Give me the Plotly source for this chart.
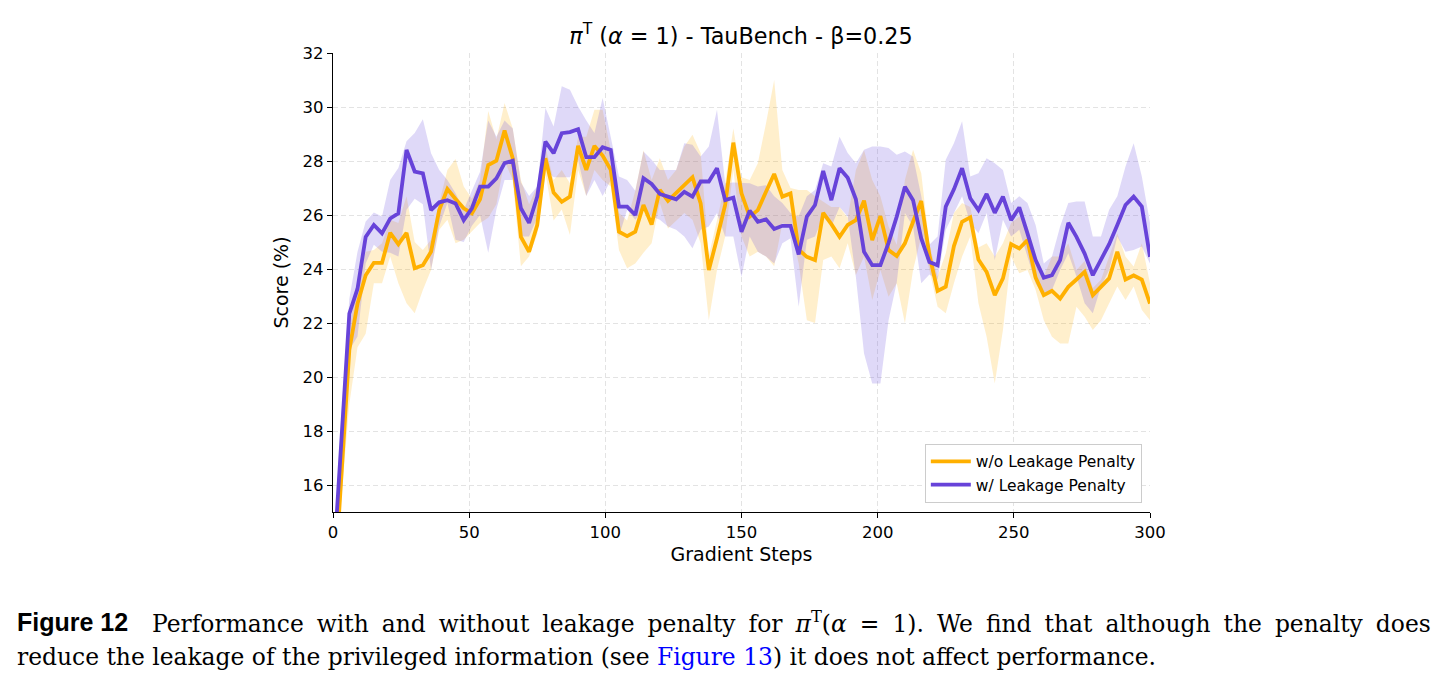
import plotly.graph_objects as go

# ---------------- data ----------------
steps = list(range(0, 301, 3))

wo_mean = [11.4, 16.1, 21.0, 22.72, 23.77, 24.23, 24.23, 25.34, 24.92, 25.34,
           24.03, 24.14, 24.64, 26.18, 26.96, 26.59, 26.25, 26.06, 26.58, 27.85,
           28.01, 29.13, 28.1, 25.19, 24.64, 25.63, 28.1, 26.83, 26.49, 26.68,
           28.56, 27.67, 28.56, 28.2, 27.67, 25.38, 25.22, 25.38, 26.37, 25.65,
           26.93, 26.52, 26.8, 27.11, 27.4, 26.43, 23.96, 25.13, 26.37, 28.68,
           26.8, 25.94, 26.18, 26.86, 27.52, 26.68, 26.8, 24.72, 24.45, 24.33,
           26.08, 25.66, 25.19, 25.63, 25.81, 26.53, 25.07, 25.96, 24.7, 24.48,
           24.95, 25.75, 26.52, 24.51, 23.19, 23.34, 24.85, 25.75, 25.91, 24.35,
           23.89, 23.03, 23.65, 24.92, 24.76, 25.07, 23.68, 23.03, 23.19, 22.9,
           23.34, 23.61, 23.89, 23.03, 23.34, 23.65, 24.64, 23.61, 23.76, 23.61,
           22.72]
wo_upper = [12.0, 16.8, 21.8, 23.47, 24.64, 24.7, 24.95, 25.82, 25.7, 26.69,
            25.0, 24.7, 25.08, 26.44, 27.67, 28.07, 27.06, 26.6, 27.3, 29.85,
            28.8, 30.15, 29.2, 27.3, 26.4, 27.06, 28.54, 27.3, 27.67, 27.18,
            28.9, 28.9, 29.9, 29.9, 28.4, 26.07, 25.8, 26.9, 28.4, 27.3,
            28.1, 27.3, 27.67, 28.54, 28.97, 28.3, 24.5, 25.8, 27.2, 29.2,
            27.4, 27.3, 27.92, 29.4, 31.0, 27.67, 27.0, 26.93, 26.93, 26.69,
            26.5, 26.3, 26.3, 25.9, 27.67, 28.4, 27.3, 26.69, 25.57, 24.9,
            27.3, 28.42, 27.55, 24.9, 23.72, 24.58, 26.07, 26.44, 26.3, 24.8,
            24.95, 24.46, 24.95, 25.7, 25.94, 25.57, 24.46, 23.72, 24.46, 24.46,
            24.95, 23.96, 24.3, 23.3, 23.6, 24.46, 25.32, 24.46, 24.09, 24.95,
            23.47]
wo_lower = [10.8, 15.4, 19.0, 21.1, 21.6, 23.47, 23.47, 24.46, 23.47, 22.73,
            22.36, 23.22, 23.96, 25.45, 25.82, 24.95, 25.08, 25.4, 25.7, 25.9,
            26.4, 28.0, 27.3, 24.1, 24.46, 25.3, 27.55, 25.8, 26.2, 25.26,
            27.67, 26.7, 27.67, 27.3, 27.06, 24.7, 24.03, 24.2, 24.6, 24.95,
            26.44, 25.5, 25.8, 26.07, 25.82, 24.95, 22.1, 23.96, 25.2, 27.67,
            25.2, 24.46, 24.64, 24.46, 24.1, 25.7, 25.57, 24.2, 22.1, 22.0,
            24.33, 24.46, 24.03, 24.95, 23.78, 24.46, 22.85, 23.96, 22.97, 23.47,
            21.99, 23.96, 25.2, 23.96, 22.6, 22.36, 23.47, 24.46, 25.2, 22.73,
            21.49, 19.76, 21.74, 24.46, 23.84, 23.96, 23.22, 22.1, 21.49, 21.24,
            21.24, 22.6, 22.23, 21.74, 22.1, 22.73, 23.35, 22.85, 23.35, 22.48,
            22.1]

w_mean = [12.7, 17.8, 22.35, 23.27, 25.19, 25.63, 25.32, 25.87, 26.06, 28.41,
          27.61, 27.54, 26.18, 26.47, 26.55, 26.43, 25.81, 26.25, 27.05, 27.05,
          27.36, 27.92, 28.01, 26.25, 25.71, 26.68, 28.72, 28.29, 29.03, 29.07,
          29.18, 28.14, 28.14, 28.51, 28.41, 26.31, 26.31, 26.0, 27.36, 27.15,
          26.78, 26.68, 26.58, 26.86, 26.68, 27.24, 27.24, 27.73, 26.55, 26.64,
          25.38, 26.16, 25.75, 25.84, 25.48, 25.6, 25.6, 24.54, 25.94, 26.37,
          27.63, 26.55, 27.73, 27.38, 26.58, 24.64, 24.14, 24.14, 24.97, 25.94,
          27.05, 26.55, 25.13, 24.26, 24.14, 26.31, 26.95, 27.73, 26.62, 26.18,
          26.78, 26.08, 26.68, 25.81, 26.28, 25.32, 24.33, 23.68, 23.77, 24.33,
          25.71, 25.19, 24.57, 23.77, 24.35, 24.92, 25.63, 26.37, 26.68, 26.31,
          24.45]
w_upper = [13.2, 18.5, 22.9, 24.64, 25.76, 26.09, 25.94, 27.3, 27.74, 28.73,
           29.04, 29.55, 28.29, 27.67, 27.3, 26.81, 26.19, 26.93, 27.6, 29.5,
           28.9, 29.5, 29.2, 27.2, 26.7, 27.06, 29.96, 29.28, 30.77, 30.64,
           30.02, 29.5, 29.04, 30.33, 28.9, 27.43, 27.3, 26.9, 28.35, 28.05,
           27.67, 27.67, 27.67, 28.66, 28.6, 28.17, 28.54, 29.9, 27.18, 27.2,
           27.18, 27.18, 27.06, 27.1, 26.69, 26.44, 26.07, 25.94, 26.69, 26.93,
           27.92, 27.8, 28.9, 28.3, 27.92, 28.42, 28.54, 28.54, 28.48, 28.23,
           28.35, 28.17, 26.7, 24.9, 25.2, 28.05, 28.66, 29.47, 27.43, 27.55,
           28.1, 27.92, 27.67, 26.44, 26.69, 26.44, 25.63, 24.2, 24.46, 25.57,
           26.44, 26.5, 26.5, 25.2, 25.2, 26.19, 26.69, 27.8, 28.66, 27.43,
           25.7]
w_lower = [12.2, 17.0, 21.0, 21.5, 24.2, 24.9, 24.64, 24.6, 24.46, 26.19,
           26.6, 26.4, 23.96, 25.57, 26.44, 25.08, 25.0, 25.6, 26.0, 24.6,
           26.2, 27.3, 27.3, 25.2, 25.2, 25.9, 27.7, 27.4, 27.4, 27.4,
           28.05, 26.7, 27.3, 26.7, 27.3, 25.2, 26.19, 25.82, 26.19, 25.94,
           25.82, 25.57, 25.45, 25.2, 24.77, 25.45, 25.57, 26.07, 25.2, 25.2,
           23.7, 25.2, 24.64, 24.46, 24.2, 24.95, 25.14, 22.6, 25.08, 25.2,
           25.94, 25.57, 26.3, 25.94, 23.7, 20.87, 19.76, 19.76, 22.1, 23.5,
           26.07, 25.57, 23.47, 23.8, 23.6, 25.45, 26.07, 26.69, 25.7, 25.32,
           26.07, 24.33, 25.82, 25.2, 25.45, 24.46, 23.47, 22.97, 23.22, 23.96,
           24.58, 23.72, 22.73, 22.36, 23.35, 23.96, 25.2, 24.64, 24.7, 24.83,
           24.2]

series_names = ["w/o Leakage Penalty", "w/ Leakage Penalty"]
x_ticks = [0, 50, 100, 150, 200, 250, 300]
y_ticks = [16, 18, 20, 22, 24, 26, 28, 30, 32]

# ---------------- style ----------------
ORANGE = "#FFB000"
PURPLE = "#6743D9"
ORANGE_FILL = "rgba(255,176,0,0.2)"
PURPLE_FILL = "rgba(110,80,225,0.22)"

W, H = 1442, 685
L, R, T, B = 333, 1150, 53.3, 511.7  # plot area in pixels


def px_x(px):
    return (px - L) / (R - L)


def px_y(py):
    return (B - py) / (B - T)


fig = go.Figure()

for upper, lower, fill in [(wo_upper, wo_lower, ORANGE_FILL), (w_upper, w_lower, PURPLE_FILL)]:
    fig.add_trace(go.Scatter(x=steps, y=upper, mode="lines", line=dict(width=0),
                             showlegend=False, hoverinfo="skip"))
    fig.add_trace(go.Scatter(x=steps, y=lower, mode="lines", line=dict(width=0),
                             fill="tonexty", fillcolor=fill, showlegend=False,
                             hoverinfo="skip"))

fig.add_trace(go.Scatter(x=steps, y=wo_mean, mode="lines", name=series_names[0],
                         line=dict(color=ORANGE, width=3.8)))
fig.add_trace(go.Scatter(x=steps, y=w_mean, mode="lines", name=series_names[1],
                         line=dict(color=PURPLE, width=3.8)))

axis_common = dict(
    showline=True, linecolor="black", linewidth=1.4, mirror=False,
    ticks="outside", ticklen=5, tickwidth=1.4, tickcolor="black",
    showgrid=True, gridcolor="#e3e3e3", griddash="5px,3px", gridwidth=1,
    zeroline=False,
    tickfont=dict(family="DejaVu Sans", size=16.5, color="black"),
)

fig.update_xaxes(range=[0, 300], tickvals=x_ticks,
                 title=dict(text="Gradient Steps", font=dict(family="DejaVu Sans", size=19, color="black"),
                            standoff=6),
                 **axis_common)
fig.update_yaxes(range=[15, 32], tickvals=y_ticks,
                 title=dict(text="Score (%)", font=dict(family="DejaVu Sans", size=19, color="black"),
                            standoff=8),
                 **axis_common)

fig.update_layout(
    width=W, height=H,
    margin=dict(l=L, r=W - R, t=T, b=H - B),
    plot_bgcolor="white", paper_bgcolor="white",
    title=dict(text="<i>π</i><sup>T</sup> (<i>α</i> = 1) - TauBench - β=0.25",
               x=px_x(741), xref="paper", xanchor="center",
               y=1 - 36 / H, yanchor="middle",
               font=dict(family="DejaVu Sans", size=22.3, color="black")),
    legend=dict(x=0.99, y=0.02, xanchor="right", yanchor="bottom",
                bgcolor="white", bordercolor="#cccccc", borderwidth=1,
                font=dict(family="DejaVu Sans", size=15.5, color="black"),
                tracegroupgap=0, itemwidth=40, traceorder="normal"),
    showlegend=True,
)

# ---------------- caption ----------------
CAP_FONT = dict(family="DejaVu Serif", size=23.4, color="black")
fig.add_annotation(text="<b>Figure 12</b>", xref="paper", yref="paper",
                   x=px_x(15), y=px_y(622), xanchor="left", yanchor="middle",
                   showarrow=False,
                   font=dict(family="Liberation Sans", size=25, color="black"))
# first caption line is justified in the reference (stretched inter-word spaces)
fig.add_annotation(text="<span style='word-spacing:5.6px'>Performance with and without leakage penalty for "
                        "<i>π</i><sup>T</sup>(<i>α</i> = 1). We find that although the penalty does</span>",
                   xref="paper", yref="paper",
                   x=px_x(150), y=px_y(622), xanchor="left", yanchor="middle",
                   showarrow=False, font=CAP_FONT)
fig.add_annotation(text="reduce the leakage of the privileged information (see "
                        "<span style='color:#0000ff'>Figure 13</span>) it does not affect performance.",
                   xref="paper", yref="paper",
                   x=px_x(15), y=px_y(657), xanchor="left", yanchor="middle",
                   showarrow=False, font=CAP_FONT)

fig.write_html("out.html")
